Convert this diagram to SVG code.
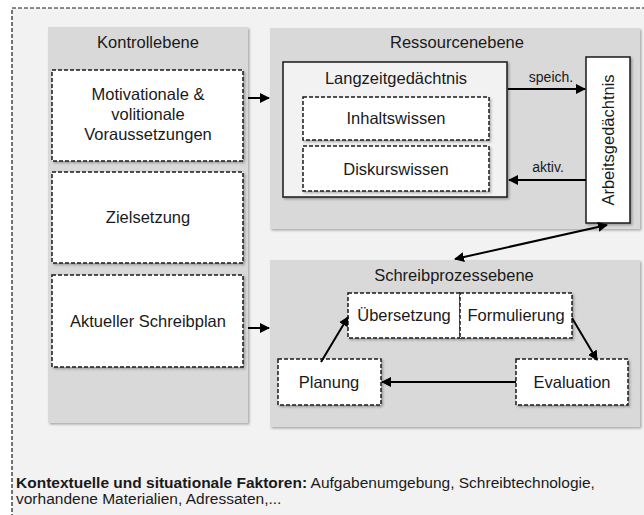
<svg xmlns="http://www.w3.org/2000/svg" width="644" height="515" viewBox="0 0 644 515">
<defs>
<marker id="ah" viewBox="0 0 10 10" refX="9" refY="5" markerWidth="5" markerHeight="5" orient="auto-start-reverse" markerUnits="strokeWidth">
<path d="M0,0 L10,5 L0,10 z" fill="#000"/>
</marker>
<filter id="sh" x="-5%" y="-5%" width="115%" height="115%">
<feDropShadow dx="1.5" dy="1.5" stdDeviation="1" flood-color="#000" flood-opacity="0.3"/>
</filter>
</defs>
<style>
text{font-family:"Liberation Sans",Arial,sans-serif;font-size:16.5px;fill:#1a1a1a;text-anchor:middle}
.panel{fill:#d9d9d9;filter:url(#sh)}
.dbox{fill:#fff;stroke:#1a1a1a;stroke-width:1.5;stroke-dasharray:4 2;filter:url(#sh)}
.sbox{stroke:#1a1a1a;stroke-width:1.5;filter:url(#sh)}
.conn{stroke:#000;stroke-width:2;fill:none;marker-end:url(#ah)}
.lbl{font-size:14px}
.foot{font-size:15.5px;text-anchor:start}
</style>
<rect x="0" y="0" width="644" height="515" fill="#fff"/>
<rect x="12" y="8" width="660" height="540" fill="#f2f2f2" stroke="#1a1a1a" stroke-width="1.2" stroke-dasharray="4 2"/>

<g id="kontrollebene">
<rect class="panel" x="48" y="27" width="200" height="396"/>
<text x="148" y="48">Kontrollebene</text>
</g>
<g id="motivation">
<rect class="dbox" x="52" y="70" width="191" height="91"/>
<text x="148" y="100">Motivationale &amp;</text>
<text x="148" y="120">volitionale</text>
<text x="148" y="140">Voraussetzungen</text>
</g>
<g id="zielsetzung">
<rect class="dbox" x="52" y="172" width="191" height="91"/>
<text x="148" y="223">Zielsetzung</text>
</g>
<g id="schreibplan">
<rect class="dbox" x="52" y="275" width="191" height="92"/>
<text x="148" y="327">Aktueller Schreibplan</text>
</g>

<g id="ressourcenebene">
<rect class="panel" x="270" y="28" width="370" height="201"/>
<text x="457" y="48">Ressourcenebene</text>
</g>
<g id="langzeit">
<rect class="sbox" x="283" y="62" width="224" height="135" fill="#f2f2f2"/>
<text x="396" y="84">Langzeitgedächtnis</text>
</g>
<g id="inhaltswissen">
<rect class="dbox" x="303" y="97" width="186" height="43"/>
<text x="396" y="124">Inhaltswissen</text>
</g>
<g id="diskurswissen">
<rect class="dbox" x="303" y="146" width="186" height="45"/>
<text x="396" y="175">Diskurswissen</text>
</g>
<g id="arbeitsgedaechtnis">
<rect class="sbox" x="586" y="57" width="44" height="166" fill="#fff"/>
<text transform="translate(614,140) rotate(-90)">Arbeitsgedächtnis</text>
</g>

<g id="schreibprozessebene">
<rect class="panel" x="270" y="260" width="370" height="167"/>
<text x="454" y="281">Schreibprozessebene</text>
</g>
<g id="uebersetzung">
<rect class="dbox" x="348" y="293" width="112" height="45"/>
<text x="404" y="321">Übersetzung</text>
</g>
<g id="formulierung">
<rect class="dbox" x="460" y="293" width="112" height="45"/>
<text x="516" y="321">Formulierung</text>
</g>
<g id="planung">
<rect class="dbox" x="278" y="359" width="103" height="46"/>
<text x="329" y="388">Planung</text>
</g>
<g id="evaluation">
<rect class="dbox" x="516" y="359" width="112" height="46"/>
<text x="572" y="388">Evaluation</text>
</g>

<g id="connectors">
<line class="conn" x1="248" y1="98" x2="269" y2="98"/>
<line class="conn" x1="248" y1="328" x2="269" y2="328"/>
<line class="conn" x1="508" y1="89" x2="585" y2="89"/>
<text class="lbl" x="551" y="82">speich.</text>
<line class="conn" x1="586" y1="180" x2="509" y2="180"/>
<text class="lbl" x="548" y="172">aktiv.</text>
<line class="conn" x1="455" y1="259" x2="607" y2="225" marker-start="url(#ah)"/>
<line class="conn" x1="321" y1="362" x2="348" y2="317"/>
<line class="conn" x1="572" y1="318" x2="597" y2="360"/>
<line class="conn" x1="516" y1="382" x2="382" y2="382"/>
</g>

<g id="kontext">
<text class="foot" x="16" y="488"><tspan font-weight="bold">Kontextuelle und situationale Faktoren:</tspan> Aufgabenumgebung, Schreibtechnologie,</text>
<text class="foot" x="16" y="504">vorhandene Materialien, Adressaten,...</text>
</g>
</svg>
